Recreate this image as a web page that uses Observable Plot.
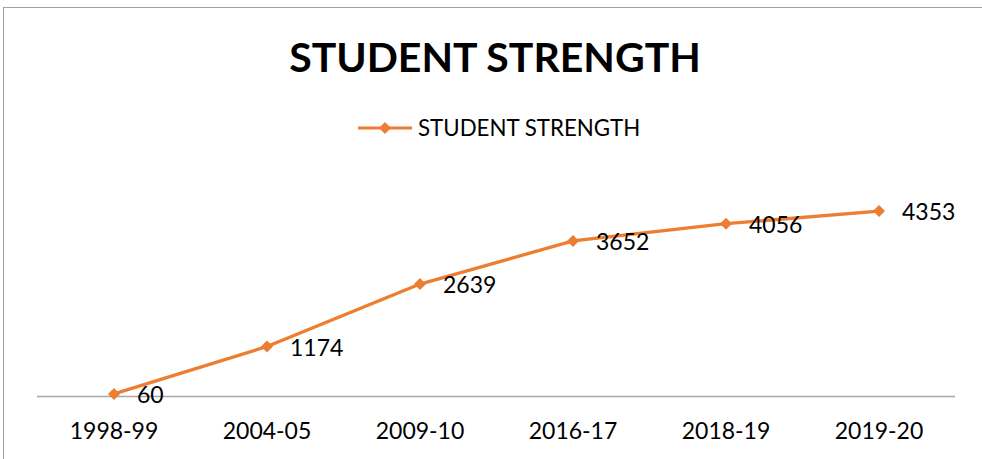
<!DOCTYPE html>
<html>
<head>
<meta charset="utf-8">
<script src="https://cdn.jsdelivr.net/npm/d3@7"></script>
<script src="https://cdn.jsdelivr.net/npm/@observablehq/plot@0.6"></script>
<style>
  html, body { margin: 0; padding: 0; background: #fff; }
  #wrap { position: relative; width: 982px; height: 459px; overflow: hidden; font-family: Lato, "Open Sans", sans-serif; color: #000; }
  #frame { position: absolute; left: 3px; top: 7px; width: 1000px; height: 500px; border-left: 1px solid #a0a0a0; border-top: 1px solid #a0a0a0; box-sizing: border-box; }
  #title { position: absolute; left: 0; top: 0; width: 982px; height: 114px; line-height: 114px; text-align: center; font-weight: 700; font-size: 41px; padding-left: 8px; box-sizing: border-box; }
  #legend { position: absolute; left: 0; top: 116px; width: 982px; height: 24px; }
  #legend svg { position: absolute; left: 356px; top: 0; }
  #legend span { position: absolute; left: 418px; top: 0; line-height: 24px; font-size: 22.3px; white-space: nowrap; }
  #chart { position: absolute; left: 0; top: 140px; }
</style>
</head>
<body>
<div id="wrap">
  <div id="frame"></div>
  <div id="title">STUDENT STRENGTH</div>
  <div id="legend">
    <svg width="60" height="24"><line x1="2" x2="56" y1="12" y2="12" stroke="#ED7D31" stroke-width="3.2"/><path d="M29,6L35,12L29,18L23,12Z" fill="#ED7D31"/></svg>
    <span>STUDENT STRENGTH</span>
  </div>
  <div id="chart"></div>
</div>
<script>
const years = ["1998-99", "2004-05", "2009-10", "2016-17", "2018-19", "2019-20"];
const strength = [60, 1174, 2639, 3652, 4056, 4353];
const seriesName = "STUDENT STRENGTH";

const data = years.map((y, i) => ({year: y, value: strength[i]}));

const diamond = {
  draw(context, size) {
    const h = Math.sqrt(size / 2);
    context.moveTo(0, -h);
    context.lineTo(h, 0);
    context.lineTo(0, h);
    context.lineTo(-h, 0);
    context.closePath();
  }
};

const orange = "#ED7D31";
const plot = Plot.plot({
  width: 982,
  height: 319,
  marginTop: 43,
  marginBottom: 63,
  marginLeft: 37,
  marginRight: 27,
  style: { fontFamily: "Lato, 'Open Sans', sans-serif", fontSize: "23px", color: "#000", background: "transparent" },
  x: { type: "band", domain: years, label: null, padding: 0 },
  y: { domain: [0, 5000], axis: null },
  marks: [
    Plot.ruleY([0], { stroke: "#a6a6a6", strokeWidth: 1.3, strokeOpacity: 1 }),
    Plot.axisX({ tickSize: 0, tickPadding: 26, fontSize: 23, label: null }),
    Plot.line(data, { x: "year", y: "value", stroke: orange, strokeWidth: 3.3 }),
    Plot.dot(data, { x: "year", y: "value", symbol: diamond, r: 4.8, fill: orange, stroke: "none" }),
    Plot.text(data, { x: "year", y: "value", text: d => String(d.value), textAnchor: "start", dx: 23, dy: 2, fontSize: 23, fill: "#000" })
  ]
});
document.getElementById("chart").appendChild(plot);
</script>
</body>
</html>
